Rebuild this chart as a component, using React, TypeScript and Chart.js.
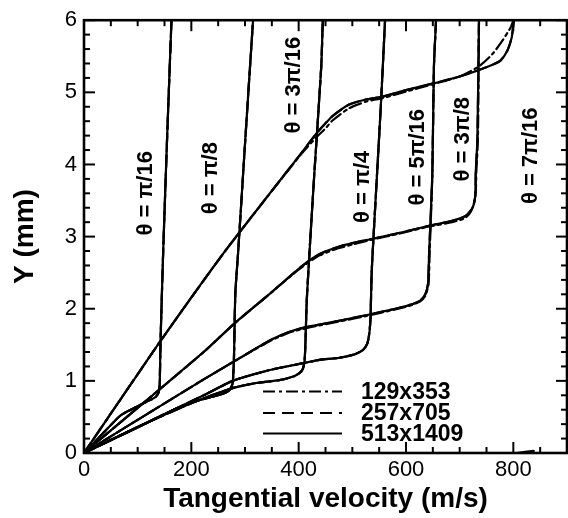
import React, { useEffect, useRef } from "react";
import { Chart, registerables } from "chart.js";

Chart.register(...registerables);

// ---- Axis ticks ----
const X_MAJOR_TICKS = [0, 200, 400, 600, 800];
const Y_MAJOR_TICKS = [0, 1, 2, 3, 4, 5, 6];

// ---- Profiles, finest grid 513x1409 (solid) ----
const U_PI16 = [0, 35, 68, 90, 108, 125, 134, 139, 141, 142.6, 147.4, 155, 163];
const Y_PI16 = [0, 0.27, 0.52, 0.61, 0.68, 0.74, 0.78, 0.84, 0.95, 1.54, 2.76, 4.4, 6];

const U_PI8 = [0, 100, 170, 200, 234, 255, 266, 272, 276, 277.5, 279.4, 282, 287, 301, 315];
const Y_PI8 = [0, 0.355, 0.61, 0.7, 0.77, 0.81, 0.845, 0.88, 0.94, 1.0, 1.31, 2.22, 2.76, 4.4, 6];

const U_3PI16 = [0, 100, 200, 277, 321, 364, 390, 402, 408, 411, 412.5, 415, 420, 429, 442, 445];
const Y_3PI16 = [0, 0.36, 0.69, 0.9, 0.97, 1.01, 1.06, 1.11, 1.17, 1.28, 1.5, 2.1, 2.76, 3.85, 5.35, 6];

const U_PI4 = [0, 100, 223, 277, 346, 408, 439, 476, 505, 520, 528, 532, 534, 536, 541, 553, 561];
const Y_PI4 = [0, 0.36, 0.8, 1.0, 1.15, 1.245, 1.29, 1.32, 1.37, 1.43, 1.52, 1.68, 1.9, 2.5, 3.2, 4.8, 6];

const U_5PI16 = [0, 100, 223, 282, 346, 383, 408, 439, 480, 532, 580, 606, 626, 636, 641, 643, 649, 652, 656];
const Y_5PI16 = [0, 0.46, 1.02, 1.28, 1.56, 1.68, 1.735, 1.78, 1.84, 1.92, 2.0, 2.05, 2.11, 2.2, 2.35, 2.76, 3.85, 5.35, 6];

const U_3PI8 = [0, 223, 281, 345, 401, 426, 439, 470, 500, 538, 593, 643, 686, 711, 724, 729, 730, 733, 736];
const Y_3PI8 = [0, 1.4, 1.8, 2.2, 2.56, 2.7, 2.76, 2.85, 2.91, 2.97, 3.06, 3.15, 3.22, 3.285, 3.4, 3.56, 3.9, 4.35, 6];

const U_7PI16 = [0, 139, 259, 340, 401, 432, 450, 463, 494, 525, 556, 600, 649, 700, 736, 760, 776, 789, 797, 800, 801];
const Y_7PI16 = [0, 1.515, 2.76, 3.54, 4.12, 4.42, 4.57, 4.67, 4.83, 4.9, 4.94, 5.03, 5.12, 5.22, 5.31, 5.38, 5.44, 5.58, 5.76, 5.94, 6];

const U_WALL = [806, 838];
const Y_WALL = [0, 0.03];

// ---- Coarse grid 129x353 (dash-dot) where it departs from the fine grid ----
const U_5PI16_C = [0, 100, 223, 282, 346, 383, 408, 439, 480, 532, 580, 606, 626, 636, 642, 644, 649, 652, 656];
const Y_5PI16_C = [0, 0.46, 1.02, 1.28, 1.55, 1.67, 1.72, 1.77, 1.83, 1.91, 1.99, 2.04, 2.1, 2.18, 2.34, 2.76, 3.85, 5.35, 6];

const U_3PI8_C = [0, 223, 281, 345, 401, 426, 439, 470, 500, 538, 593, 643, 686, 711, 721, 727, 730, 731, 734, 736];
const Y_3PI8_C = [0, 1.4, 1.8, 2.2, 2.55, 2.68, 2.74, 2.83, 2.89, 2.96, 3.05, 3.14, 3.2, 3.26, 3.35, 3.47, 3.62, 3.9, 4.35, 6];

const U_7PI16_C = [0, 139, 259, 401, 432, 450, 463, 494, 525, 556, 600, 649, 700, 736, 761, 779, 795, 800];
const Y_7PI16_C = [0, 1.515, 2.76, 4.11, 4.37, 4.5, 4.61, 4.78, 4.87, 4.92, 5.01, 5.11, 5.22, 5.36, 5.53, 5.71, 5.9, 6];

// ---- Annotations ----
const THETA_LABELS = ["θ = π/16", "θ = π/8", "θ = 3π/16", "θ = π/4", "θ = 5π/16", "θ = 3π/8", "θ = 7π/16"];
const THETA_LABEL_U = [115, 237, 392, 520, 623, 706, 833];
const THETA_LABEL_Y = [3.6, 3.81, 5.1, 3.69, 4.1, 4.35, 4.12];

const LEGEND_LABELS = ["129x353", "257x705", "513x1409"];
const X_TITLE = "Tangential velocity (m/s)";
const Y_TITLE = "Y (mm)";

const FONT = "'Liberation Sans', Arial, Helvetica, sans-serif";
const DASH_DOT = [12, 4, 3, 4];
const DASHED = [12, 7];

const pts = (u: number[], y: number[]) => u.map((v, i) => ({ x: v, y: y[i] }));

const decorPlugin = {
  id: "decor",
  afterDatasetsDraw(chart: any) {
    const { ctx, chartArea: a, scales } = chart;
    const xs = scales.x;
    const ys = scales.y;
    ctx.save();
    ctx.strokeStyle = "#000";
    ctx.fillStyle = "#000";
    ctx.lineCap = "butt";
    const seg = (x1: number, y1: number, x2: number, y2: number) => {
      ctx.beginPath();
      ctx.moveTo(x1, y1);
      ctx.lineTo(x2, y2);
      ctx.stroke();
    };
    ctx.lineWidth = 2;
    for (let v = 0; v <= 900; v += 50) {
      const px = xs.getPixelForValue(v);
      const len = X_MAJOR_TICKS.includes(v) ? 11 : 6;
      seg(px, a.bottom, px, a.bottom - len);
      seg(px, a.top, px, a.top + len);
    }
    for (let k = 0; k <= 30; k++) {
      const v = k * 0.2;
      const py = ys.getPixelForValue(v);
      const len = k % 5 === 0 ? 11 : 6;
      seg(a.left, py, a.left + len, py);
      seg(a.right, py, a.right - len, py);
    }
    ctx.lineWidth = 2.6;
    ctx.strokeRect(a.left, a.top, a.right - a.left, a.bottom - a.top);

    // theta labels
    ctx.font = `bold 22px ${FONT}`;
    ctx.textAlign = "center";
    ctx.textBaseline = "middle";
    THETA_LABELS.forEach((t, i) => {
      const px = xs.getPixelForValue(THETA_LABEL_U[i]);
      const py = ys.getPixelForValue(THETA_LABEL_Y[i]);
      ctx.save();
      ctx.translate(px, py);
      ctx.rotate(-Math.PI / 2);
      ctx.fillText(t, 0, 0);
      ctx.restore();
    });

    // legend
    const dashes = [DASH_DOT, DASHED, []];
    const ly = [391.5, 413, 433.5];
    ctx.lineWidth = 2.2;
    LEGEND_LABELS.forEach((t, i) => {
      ctx.setLineDash(dashes[i]);
      seg(263, ly[i], 342, ly[i]);
      ctx.setLineDash([]);
      ctx.font = `bold 23px ${FONT}`;
      ctx.textAlign = "left";
      ctx.textBaseline = "middle";
      ctx.fillText(t, 361, ly[i] + 1);
    });

    // axis titles
    ctx.font = `bold 28px ${FONT}`;
    ctx.textAlign = "center";
    ctx.textBaseline = "middle";
    ctx.fillText(X_TITLE, (a.left + a.right) / 2, 499);
    ctx.save();
    ctx.translate(25, (a.top + a.bottom) / 2);
    ctx.rotate(-Math.PI / 2);
    ctx.fillText(Y_TITLE, 0, 0);
    ctx.restore();
    ctx.restore();
  },
};

function line(u: number[], y: number[], dash: number[], order: number) {
  return {
    data: pts(u, y),
    showLine: true,
    borderColor: "#000",
    backgroundColor: "#000",
    borderWidth: 2.2,
    borderDash: dash,
    pointRadius: 0,
    tension: 0.2,
    borderJoinStyle: "round" as const,
    borderCapStyle: "round" as const,
    fill: false,
    order,
  };
}

export default function App() {
  const ref = useRef<HTMLCanvasElement | null>(null);
  useEffect(() => {
    if (!ref.current) return;
    const fine: [number[], number[]][] = [
      [U_PI16, Y_PI16], [U_PI8, Y_PI8], [U_3PI16, Y_3PI16], [U_PI4, Y_PI4],
      [U_5PI16, Y_5PI16], [U_3PI8, Y_3PI8], [U_7PI16, Y_7PI16], [U_WALL, Y_WALL],
    ];
    const coarse: [number[], number[]][] = [
      [U_PI16, Y_PI16], [U_PI8, Y_PI8], [U_3PI16, Y_3PI16], [U_PI4, Y_PI4],
      [U_5PI16_C, Y_5PI16_C], [U_3PI8_C, Y_3PI8_C], [U_7PI16_C, Y_7PI16_C],
    ];
    const datasets: any[] = [];
    fine.forEach(([u, y]) => datasets.push(line(u, y, [], 0)));
    fine.slice(0, 7).forEach(([u, y]) => datasets.push(line(u, y, DASHED, 1)));
    coarse.forEach(([u, y]) => datasets.push(line(u, y, DASH_DOT, 2)));

    const chart = new Chart(ref.current, {
      type: "scatter",
      data: { datasets },
      plugins: [decorPlugin],
      options: {
        animation: false,
        responsive: false,
        layout: { padding: { left: 0, right: 1, top: 12, bottom: 0 } },
        plugins: { legend: { display: false }, tooltip: { enabled: false } },
        scales: {
          x: {
            type: "linear",
            min: 0,
            max: 900,
            grid: { display: false, drawTicks: false },
            border: { display: false },
            afterBuildTicks: (s: any) => {
              s.ticks = X_MAJOR_TICKS.map((v) => ({ value: v }));
            },
            afterFit: (s: any) => {
              s.height = 65;
            },
            ticks: {
              color: "#000",
              padding: 4,
              maxRotation: 0,
              font: { family: FONT, size: 22 },
            },
          },
          y: {
            type: "linear",
            min: 0,
            max: 6,
            grid: { display: false, drawTicks: false },
            border: { display: false },
            afterBuildTicks: (s: any) => {
              s.ticks = Y_MAJOR_TICKS.map((v) => ({ value: v }));
            },
            afterFit: (s: any) => {
              s.width = 84;
            },
            ticks: {
              color: "#000",
              padding: 7,
              font: { family: FONT, size: 22 },
            },
          },
        },
      },
    });
    return () => chart.destroy();
  }, []);

  return (
    <div style={{ position: "fixed", left: 0, top: 0, width: 568, height: 518, background: "#fff" }}>
      <canvas ref={ref} width={568} height={518} />
    </div>
  );
}
